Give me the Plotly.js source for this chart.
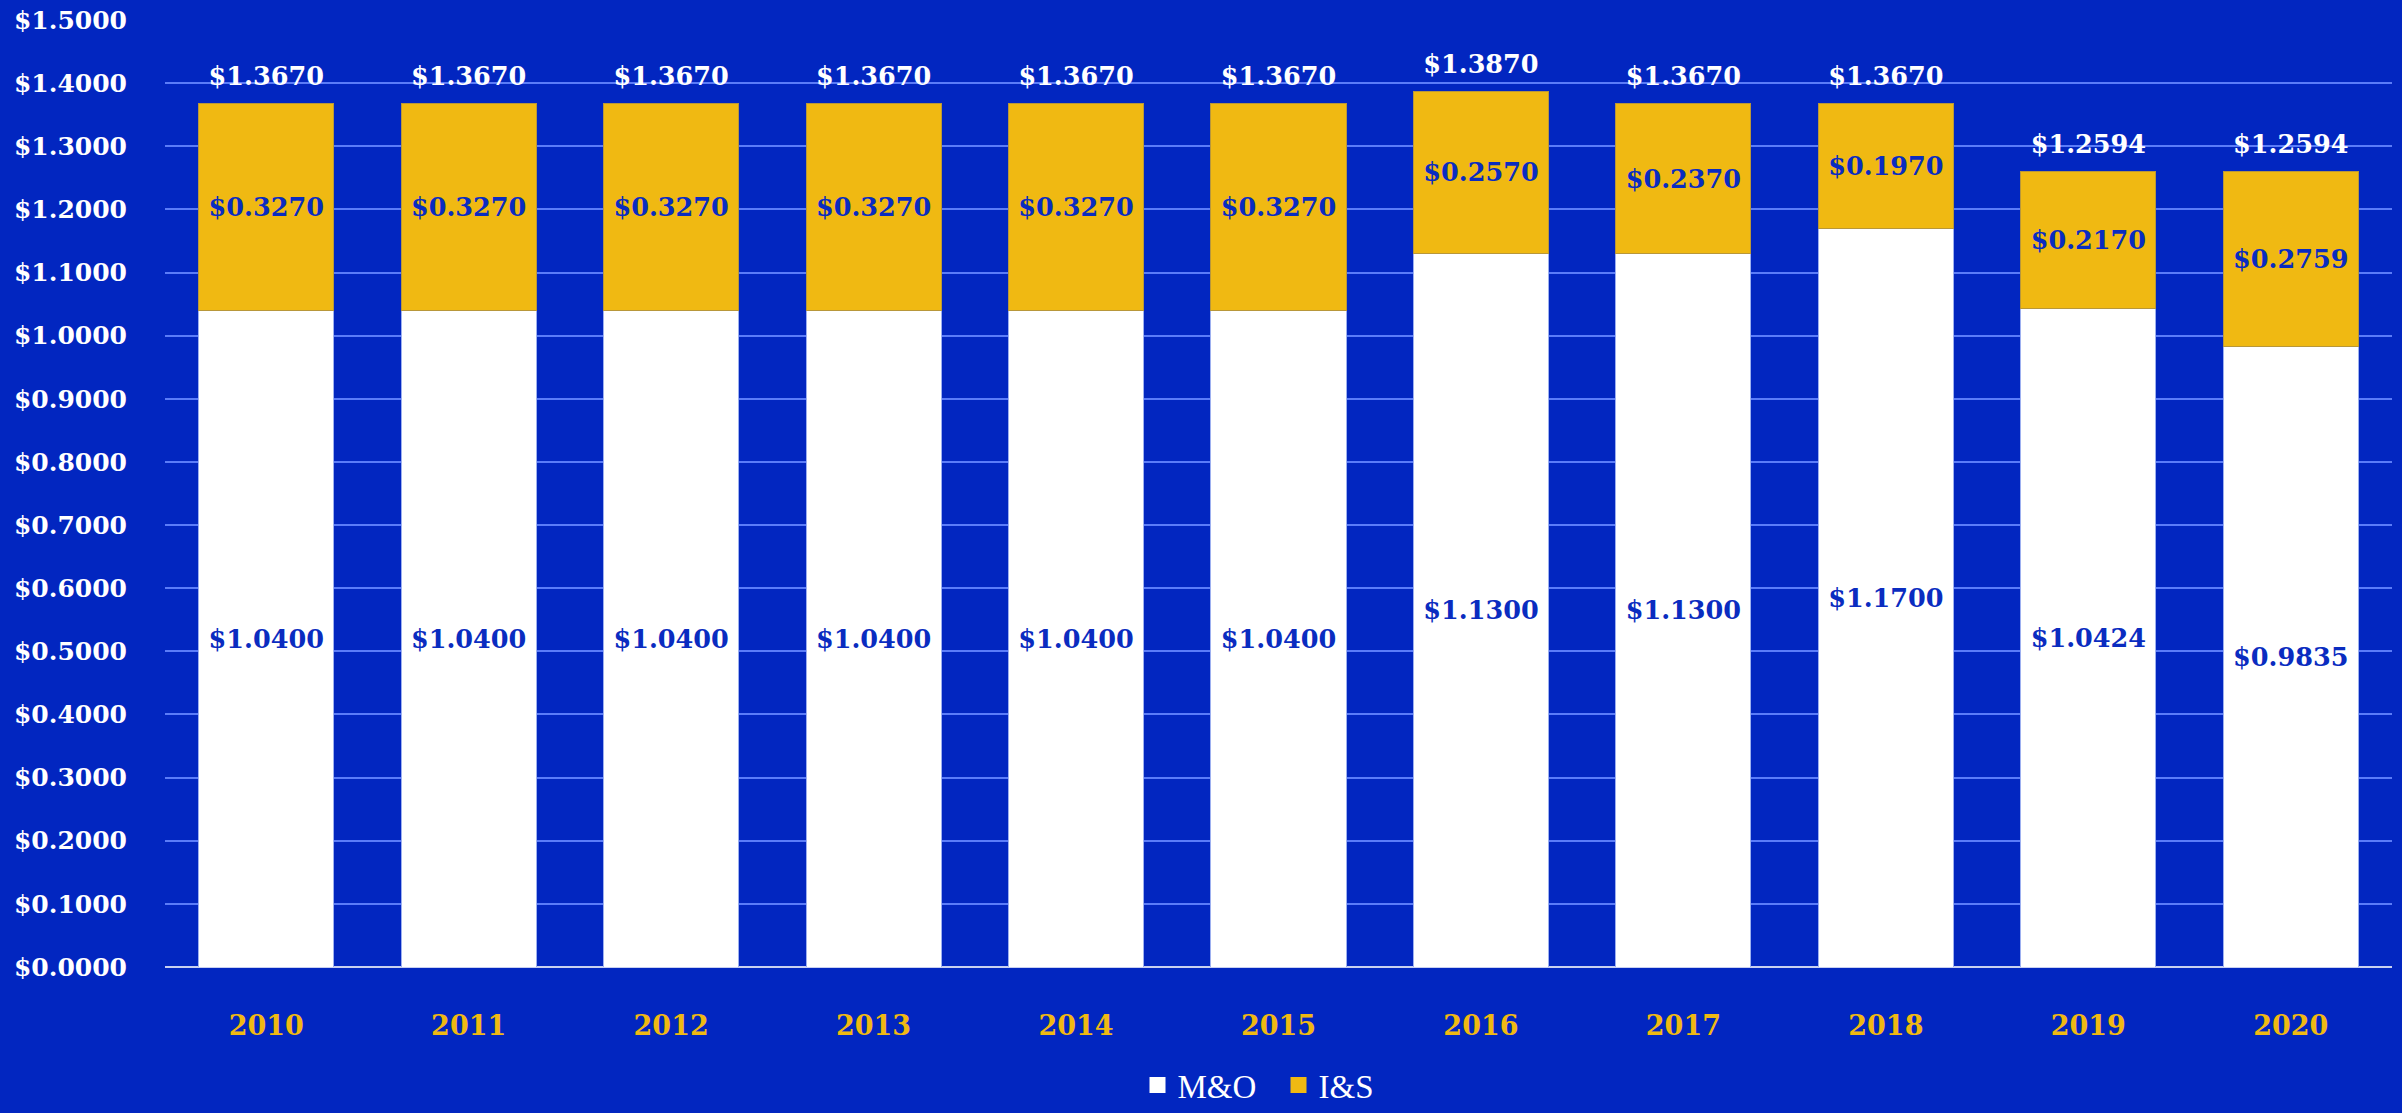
<!DOCTYPE html>
<html>
<head>
<meta charset="utf-8">
<script src="https://cdn.plot.ly/plotly-3.0.1.min.js"></script>
<style>html,body{margin:0;padding:0;background:#0226C0;}#chart{width:2402px;height:1113px;}</style>
</head>
<body>
<div id="chart"></div>
<script>
const years = ['2010','2011','2012','2013','2014','2015','2016','2017','2018','2019','2020'];
const mo = [1.0400,1.0400,1.0400,1.0400,1.0400,1.0400,1.1300,1.1300,1.1700,1.0424,0.9835];
const is = [0.3270,0.3270,0.3270,0.3270,0.3270,0.3270,0.2570,0.2370,0.1970,0.2170,0.2759];
const totals = mo.map((v,i)=>Math.round((v+is[i])*10000)/10000);
const seriesNames = ['M&O','I&S'];

const BG = '#0226C0';
const GOLD = '#F0B912';
const WHITE = '#FFFFFF';
const BOLD = '"DejaVu Serif", serif';
const SERIF = '"Liberation Serif", "DejaVu Serif", serif';

const labelFont = {family:BOLD, size:25.5, color:'#0A2CC0', weight:'bold'};

const traces = [
  {
    type:'bar', name:seriesNames[0], x:years, y:mo, showlegend:false,
    marker:{color:WHITE, line:{color:'#9DB0F0', width:1}},
    texttemplate:'$%{y:.4f}', textposition:'inside', insidetextanchor:'middle',
    textangle:0, constraintext:'none', textfont:labelFont, hoverinfo:'skip'
  },
  {
    type:'bar', name:seriesNames[1], x:years, y:is, showlegend:false,
    marker:{color:GOLD, line:{color:'#B8973A', width:1}},
    texttemplate:'$%{y:.4f}', textposition:'inside', insidetextanchor:'middle',
    textangle:0, constraintext:'none', textfont:labelFont, hoverinfo:'skip'
  },
  {
    type:'scatter', mode:'markers+text', x:years, y:totals, showlegend:false,
    marker:{size:18, color:'rgba(0,0,0,0)', line:{width:0}},
    text:totals.map(v=>'$'+v.toFixed(4)), textposition:'top center',
    textfont:{family:BOLD, size:25.5, color:WHITE, weight:'bold'},
    hoverinfo:'skip', cliponaxis:false
  },
  {
    type:'scatter', mode:'markers', name:seriesNames[0], x:[null], y:[null],
    marker:{symbol:'square', size:16, color:WHITE, line:{width:0}}
  },
  {
    type:'scatter', mode:'markers', name:seriesNames[1], x:[null], y:[null],
    marker:{symbol:'square', size:16, color:GOLD, line:{width:0}}
  }
];

const layout = {
  width:2402, height:1113,
  paper_bgcolor:BG, plot_bgcolor:BG,
  barmode:'stack', bargap:0.333,
  margin:{l:165, r:10, t:20, b:146},
  font:{family:SERIF, color:WHITE},
  xaxis:{
    type:'category', range:[-0.5,10.5], automargin:false,
    showgrid:false, zeroline:false, showline:false,
    ticks:'', ticklabelstandoff:40,
    tickfont:{family:BOLD, size:27, color:GOLD, weight:'bold'}
  },
  yaxis:{
    range:[0,1.5], dtick:0.1, tick0:0, automargin:false,
    tickprefix:'$', tickformat:'.4f',
    showgrid:true, gridcolor:'#5B7CF8', gridwidth:2,
    zeroline:true, zerolinecolor:'#C8D0F0', zerolinewidth:2,
    ticks:'', ticklabelstandoff:37,
    tickfont:{family:BOLD, size:25, color:WHITE, weight:'bold'}
  },
  legend:{
    orientation:'h', x:0.5, xanchor:'center', y:0, yanchor:'bottom',
    yref:'container', traceorder:'normal', itemsizing:'trace',
    font:{family:SERIF, size:33, color:WHITE},
    bgcolor:'rgba(0,0,0,0)', entrywidth:96
  },
  showlegend:true
};

Plotly.newPlot('chart', traces, layout, {displayModeBar:false, staticPlot:true});
</script>
</body>
</html>
